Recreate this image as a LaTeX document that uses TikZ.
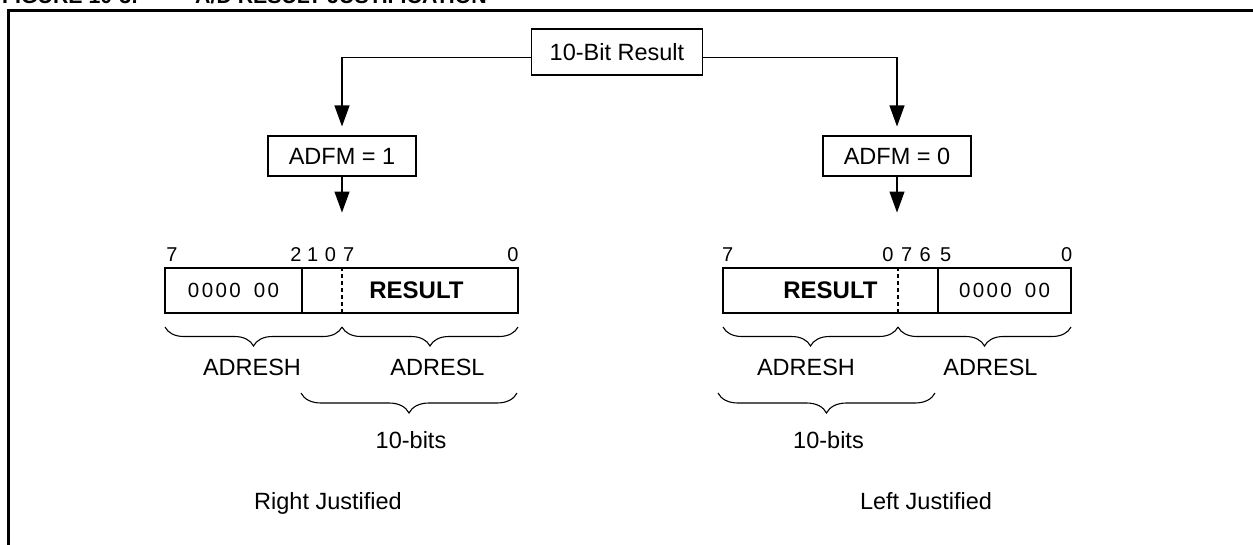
\documentclass[tikz,border=0pt]{standalone}
\usepackage{fontspec}
\setmainfont{Liberation Sans}
\usetikzlibrary{positioning,arrows.meta,decorations.pathreplacing}

\newcommand{\padbits}{0\kern2.4pt0\kern2.4pt0\kern2.4pt0\kern13pt0\kern2.4pt0}

\begin{document}
\begin{tikzpicture}[x=1pt,y=-1pt,
      >={Triangle[length=21pt,width=15pt]},
      box/.style={draw=black,line width=1.1pt,inner sep=0pt,
        font=\fontsize{23.5}{28}\selectfont},
      cell/.style={draw=black,line width=1.1pt,inner sep=0pt,
        minimum height=45pt,font=\fontsize{20.5}{24}\selectfont},
      bitno/.style={anchor=base,inner sep=0pt,font=\fontsize{20}{24}\selectfont},
      lbl/.style={anchor=base,inner sep=0pt,font=\fontsize{23.5}{28}\selectfont},
      figcap/.style={anchor=base west,inner sep=0pt,
        font=\bfseries\fontsize{21.3}{25}\selectfont},
      flow/.style={draw=black,line width=1.1pt,->},
      brc/.style={draw=black,line width=1.1pt,decorate,
        decoration={brace,mirror,amplitude=#1}},
      brc/.default=19pt
    ]
    \useasboundingbox (0,0) rectangle (1253,544);
    % caption and frame, both cut by the page
    \node[figcap] (fig) at (2,3) {FIGURE 10-3:};
    \node[figcap] (ttl) at (195,3) {A/D RESULT JUSTIFICATION};
    \draw[line width=2.5pt] (8.7,600) |- (1300,10.7);
    % result and the two ADFM choices
    \node[box,minimum width=171pt,minimum height=46pt] (res) at (617,52)
      {\raisebox{-3.8pt}{10-Bit Result}};
    \node[box,minimum width=148pt,minimum height=40pt] (fmL) at (342,156) {ADFM = 1};
    \node[box,minimum width=148pt,minimum height=40pt] (fmR) at (897,156) {ADFM = 0};
    \draw[flow,shorten >=9pt] ([yshift=-5.3pt]res.west) -| (fmL.north);
    \draw[flow,shorten >=9pt] ([yshift=-5.3pt]res.east) -| (fmR.north);
    \coordinate[below=36pt of fmL.south] (tipL);
    \coordinate[below=36pt of fmR.south] (tipR);
    \draw[flow] (fmL.south) -- (tipL);
    \draw[flow] (fmR.south) -- (tipR);
    % right justified register pair
    \node[cell,minimum width=137pt] (zrL) at (233.5,290.5) {\padbits};
    \node[cell,minimum width=216pt,font=\bfseries\fontsize{24}{28}\selectfont]
      (rsL) at (410,290.5) {\hspace{13pt}RESULT};
    \draw[line width=1.1pt,dash pattern=on 4pt off 3pt] (342,0 |- rsL.north) -- (342,0 |- rsL.south);
    \node[bitno] (l7a) at (172,261.7) {7};
    \node[bitno] (l2) at (296,261.7) {2};
    \node[bitno] (l1) at (312.7,261.7) {1};
    \node[bitno] (l0a) at (330.5,261.7) {0};
    \node[bitno] (l7b) at (348.7,261.7) {7};
    \node[bitno] (l0b) at (513,261.7) {0};
    \draw[brc] (165,327) -- (342,327);
    \draw[brc] (342,327) -- (518,327);
    \node[lbl] (hL) at (252,375) {ADRESH};
    \node[lbl] (lL) at (437.5,375) {ADRESL};
    \draw[brc=20pt] (301,393) -- (517,393);
    \node[lbl] (tbL) at (411,448) {10-bits};
    \node[lbl] (jL) at (328,509) {Right Justified};
    % left justified register pair
    \node[cell,minimum width=215pt,font=\bfseries\fontsize{24}{28}\selectfont]
      (rsR) at (830.5,290.5) {RESULT\hspace{17pt}};
    \node[cell,minimum width=133pt] (zrR) at (1004.5,290.5) {\padbits};
    \draw[line width=1.1pt,dash pattern=on 4pt off 3pt] (898,0 |- rsR.north) -- (898,0 |- rsR.south);
    \node[bitno] (r7a) at (727.7,261.7) {7};
    \node[bitno] (r0a) at (888,261.7) {0};
    \node[bitno] (r7b) at (906.7,261.7) {7};
    \node[bitno] (r6) at (925.3,261.7) {6};
    \node[bitno] (r5) at (945.7,261.7) {5};
    \node[bitno] (r0b) at (1066.7,261.7) {0};
    \draw[brc] (723,327) -- (898,327);
    \draw[brc] (898,327) -- (1071,327);
    \node[lbl] (hR) at (806,375) {ADRESH};
    \node[lbl] (lR) at (990.5,375) {ADRESL};
    \draw[brc=20pt] (718,393) -- (935,393);
    \node[lbl] (tbR) at (828.5,448) {10-bits};
    \node[lbl] (jR) at (926,509) {Left Justified};
  \end{tikzpicture}
\end{document}
